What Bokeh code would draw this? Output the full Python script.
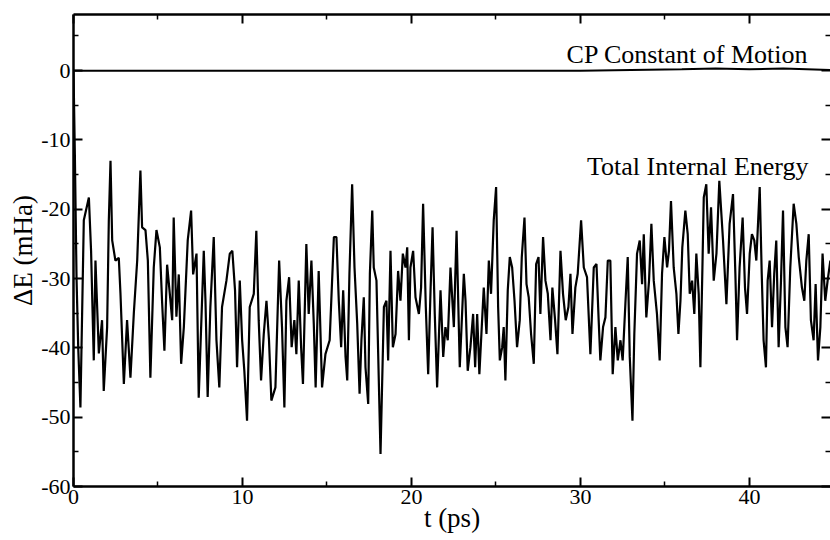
from bokeh.plotting import figure
from bokeh.models import FixedTicker, LinearAxis, Range1d, Label, CustomJSTickFormatter
from bokeh.embed import file_html
from bokeh.resources import INLINE

# Total internal energy trace (t in ps, dE in mHa)
t_total = [0.0, 0.08, 0.18, 0.28, 0.41, 0.61, 0.91, 1.04, 1.20, 1.30, 1.50, 1.69, 1.79, 1.99, 2.09, 2.19,
           2.29, 2.48, 2.68, 2.78, 2.98, 3.17, 3.37, 3.57, 3.77, 3.96, 4.06, 4.26, 4.40, 4.55, 4.75, 4.91,
           5.11, 5.24, 5.38, 5.54, 5.70, 5.84, 5.93, 6.09, 6.23, 6.37, 6.53, 6.76, 6.96, 7.08, 7.28, 7.41,
           7.71, 7.81, 7.94, 8.10, 8.30, 8.46, 8.63, 8.79, 9.05, 9.25, 9.40, 9.56, 9.68, 9.84, 9.98, 10.11,
           10.27, 10.43, 10.67, 10.82, 10.96, 11.10, 11.26, 11.42, 11.57, 11.71, 11.95, 12.17, 12.34, 12.48,
           12.60, 12.76, 12.91, 13.07, 13.19, 13.33, 13.47, 13.58, 13.78, 13.92, 14.08, 14.22, 14.33, 14.51,
           14.71, 14.91, 15.16, 15.41, 15.56, 15.70, 15.84, 15.96, 16.10, 16.20, 16.33, 16.49, 16.63, 16.79,
           16.93, 17.04, 17.18, 17.28, 17.44, 17.54, 17.68, 17.77, 17.93, 18.17, 18.37, 18.52, 18.62, 18.76,
           18.90, 19.06, 19.21, 19.35, 19.49, 19.65, 19.75, 19.85, 19.94, 20.10, 20.24, 20.44, 20.57, 20.69,
           20.85, 20.99, 21.13, 21.25, 21.38, 21.52, 21.72, 21.88, 22.01, 22.15, 22.31, 22.51, 22.67, 22.86,
           23.10, 23.20, 23.33, 23.49, 23.65, 23.77, 23.89, 24.02, 24.14, 24.28, 24.44, 24.58, 24.71, 24.87,
           25.01, 25.13, 25.23, 25.37, 25.46, 25.56, 25.70, 25.82, 25.96, 26.10, 26.25, 26.41, 26.53, 26.69,
           26.81, 26.94, 27.08, 27.24, 27.38, 27.52, 27.63, 27.79, 27.93, 28.07, 28.23, 28.34, 28.50, 28.64,
           28.82, 28.97, 29.13, 29.29, 29.41, 29.53, 29.70, 29.84, 30.04, 30.20, 30.39, 30.59, 30.79, 30.95,
           31.08, 31.18, 31.34, 31.48, 31.62, 31.77, 31.91, 32.07, 32.21, 32.37, 32.50, 32.66, 32.80, 32.92,
           33.08, 33.19, 33.35, 33.51, 33.65, 33.75, 33.90, 34.06, 34.20, 34.34, 34.53, 34.69, 34.83, 34.97,
           35.13, 35.24, 35.36, 35.52, 35.68, 35.80, 35.92, 36.03, 36.21, 36.35, 36.47, 36.61, 36.74, 36.86,
           37.00, 37.10, 37.22, 37.30, 37.45, 37.59, 37.73, 37.89, 38.05, 38.22, 38.44, 38.64, 38.83, 39.03,
           39.17, 39.27, 39.42, 39.60, 39.74, 39.86, 40.02, 40.15, 40.29, 40.41, 40.61, 40.73, 40.84, 40.98,
           41.08, 41.20, 41.34, 41.47, 41.59, 41.73, 41.87, 41.99, 42.13, 42.26, 42.42, 42.62, 42.78, 42.92,
           43.11, 43.25, 43.37, 43.51, 43.64, 43.80, 43.92, 44.06, 44.20, 44.33, 44.49, 44.63, 44.79]
e_total = [0.0, -12.0, -30.0, -40.0, -48.6, -21.6, -18.3, -26.0, -41.8, -27.4, -40.8, -36.0, -46.2, -37.0, -21.6, -13.0,
           -24.5, -27.4, -27.0, -32.2, -45.2, -36.0, -44.3, -35.0, -27.4, -14.4, -22.6, -23.0, -27.4, -44.3, -28.4, -23.0,
           -25.5, -33.2, -40.4, -28.0, -32.2, -36.0, -21.2, -35.5, -29.4, -42.3, -37.0, -24.5, -20.2, -29.4, -26.4, -47.2,
           -26.0, -33.2, -47.1, -34.1, -24.0, -38.9, -45.7, -34.1, -30.3, -26.4, -26.0, -31.7, -42.8, -30.3, -38.9, -43.3,
           -50.5, -34.1, -32.2, -23.1, -36.0, -44.7, -38.0, -33.2, -38.9, -47.6, -45.7, -27.4, -37.0, -48.6,
           -33.2, -29.8, -39.9, -36.0, -40.9, -30.3, -39.9, -45.2, -25.0, -35.1, -27.4, -36.5, -45.7, -28.9,
           -45.7, -40.9, -38.9, -24.0, -24.0, -33.2, -39.9, -31.7, -41.3, -44.7, -29.3, -16.4, -28.4, -36.5,
           -46.6, -38.9, -32.7, -42.8, -48.1, -29.3, -20.2, -28.4, -30.3, -55.3, -34.1, -33.2, -41.8, -26.0,
           -39.9, -38.0, -28.9, -33.2, -26.4, -28.4, -25.5, -38.9, -28.4, -26.0, -32.7, -35.1, -31.3, -19.2,
           -34.1, -43.8, -31.7, -22.6, -35.1, -45.7, -31.7, -41.3, -37.0, -38.9, -28.4, -37.0, -23.1, -42.8,
           -29.3, -33.2, -43.3, -39.9, -35.1, -42.8, -35.1, -43.8, -38.0, -31.3, -38.0, -27.4, -32.2, -21.6,
           -16.8, -34.1, -41.8, -39.9, -37.0, -44.7, -31.7, -26.9, -28.4, -33.2, -39.9, -36.0, -26.9, -21.2,
           -30.8, -32.7, -38.0, -42.3, -27.9, -26.9, -35.1, -24.0, -30.3, -32.2, -38.9, -31.3, -36.0, -40.9,
           -26.0, -32.2, -36.0, -34.1, -29.3, -38.0, -31.3, -29.3, -21.6, -28.4, -29.8, -40.9, -28.4, -27.9,
           -36.0, -41.8, -37.0, -35.6, -27.4, -27.4, -43.8, -37.0, -41.8, -38.9, -41.8, -33.7, -26.9, -41.3,
           -50.5, -38.0, -26.4, -24.5, -30.8, -23.6, -35.6, -30.3, -22.1, -30.3, -35.1, -41.8, -29.3, -24.0,
           -28.4, -26.0, -18.8, -28.4, -32.2, -38.0, -33.2, -25.5, -20.2, -23.6, -32.2, -30.3, -35.1, -26.4,
           -32.2, -42.8, -28.4, -18.3, -16.4, -26.4, -19.7, -30.3, -26.4, -15.9, -24.5, -33.7, -22.1, -17.8,
           -29.3, -38.9, -28.4, -21.2, -31.3, -35.1, -26.4, -23.6, -24.5, -27.4, -16.8, -29.3, -38.9, -42.8,
           -30.3, -27.4, -37.0, -29.3, -24.5, -39.9, -30.3, -20.2, -37.0, -39.9, -28.4, -19.2, -22.1, -26.9,
           -31.3, -33.2, -27.4, -23.6, -36.0, -38.9, -30.8, -41.8, -37.0, -26.4, -33.2, -30.3, -27.4]

# CP constant of motion (flat near zero)
t_cp = [0.0, 10.0, 20.0, 30.0, 33.0, 36.0, 38.0, 40.0, 42.0, 44.8]
e_cp = [0.0, 0.0, 0.0, 0.0, 0.1, 0.2, 0.3, 0.2, 0.3, 0.1]

x_ticks = [0, 10, 20, 30, 40]
x_minor = [5, 15, 25, 35, 45]
y_ticks = [-60, -50, -40, -30, -20, -10, 0]
y_minor = [-55, -45, -35, -25, -15, -5, 5]

FONT = "Liberation Serif"

p = figure(width=830, height=540, output_backend="svg", toolbar_location=None,
           x_range=Range1d(0, 44.8), y_range=Range1d(-60, 8.1),
           min_border_left=73, min_border_top=14, min_border_bottom=54, min_border_right=0,
           x_axis_location=None, y_axis_location=None)
p.grid.visible = False
p.outline_line_color = None
p.background_fill_color = "white"
p.border_fill_color = "white"

fmt = CustomJSTickFormatter(code="return tick.toFixed(0);")

def style(ax, labels=True, line=True):
    ax.major_tick_in = 9
    ax.major_tick_out = 0
    ax.minor_tick_in = 5
    ax.minor_tick_out = 0
    ax.major_tick_line_width = 2
    ax.minor_tick_line_width = 1.5
    ax.axis_line_width = 2.5
    ax.major_tick_line_color = "black"
    ax.minor_tick_line_color = "black"
    ax.axis_line_color = "black" if line else None
    ax.formatter = fmt
    ax.major_label_text_font = FONT
    ax.major_label_text_font_size = "22px"
    ax.major_label_text_font_style = "normal"
    ax.major_label_text_color = "black" if labels else None
    ax.axis_label_text_font = FONT
    ax.axis_label_text_font_style = "normal"
    ax.axis_label_text_font_size = "27px"
    ax.axis_label_text_color = "black"

xt = FixedTicker(ticks=x_ticks, minor_ticks=x_minor)
yt = FixedTicker(ticks=y_ticks, minor_ticks=y_minor)

bottom = LinearAxis(ticker=xt, axis_label="t (ps)")
style(bottom)
bottom.major_label_standoff = 3
bottom.axis_label_standoff = -4
p.add_layout(bottom, "below")

left = LinearAxis(ticker=yt, axis_label="ΔE (mHa)")
style(left)
left.major_label_standoff = 3
left.axis_label_standoff = 0
p.add_layout(left, "left")

top = LinearAxis(ticker=xt)
style(top, labels=False)
top.major_label_text_font_size = "0px"
p.add_layout(top, "above")

right = LinearAxis(ticker=yt)
style(right, labels=False, line=False)
right.major_label_text_font_size = "0px"
p.add_layout(right, "right")

p.line(t_total, e_total, line_color="black", line_width=2.2)
p.line(t_cp, e_cp, line_color="black", line_width=2)

p.add_layout(Label(x=43.5, y=2.4, text="CP Constant of Motion", text_align="right",
                   text_baseline="alphabetic", text_font=FONT, text_font_size="26px", text_color="black"))
p.add_layout(Label(x=43.5, y=-13.85, text="Total Internal Energy", text_align="right",
                   text_baseline="alphabetic", text_font=FONT, text_font_size="26px", text_color="black"))

open("out.html", "w").write(file_html(p, INLINE))
